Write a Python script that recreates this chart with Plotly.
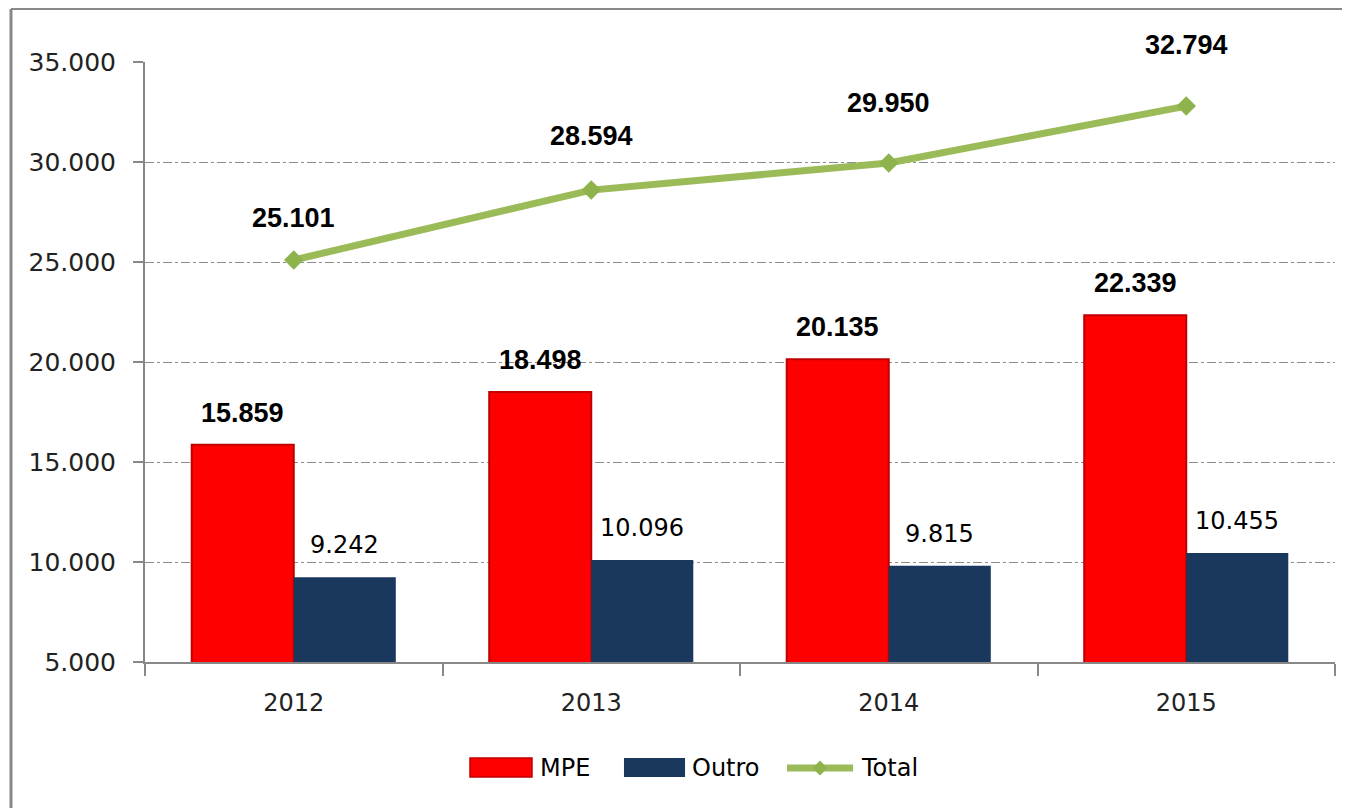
import plotly.graph_objects as go

years = ["2012", "2013", "2014", "2015"]
mpe = [15859, 18498, 20135, 22339]
outro = [9242, 10096, 9815, 10455]
total = [25101, 28594, 29950, 32794]
tick_vals = [5000, 10000, 15000, 20000, 25000, 30000, 35000]
tick_text = ["5.000", "10.000", "15.000", "20.000", "25.000", "30.000", "35.000"]


def fmt(v):
    return f"{v:,}".replace(",", ".")


RED = "#FF0000"
NAVY = "#1A375E"
GREEN = "#9BBB59"
REG = "DejaVu Sans"
BOLD = "Liberation Sans"

fig = go.Figure()
fig.add_trace(go.Bar(x=years, y=mpe, name="MPE", marker=dict(color=RED, line=dict(color="#C00000", width=2))))
fig.add_trace(go.Bar(x=years, y=outro, name="Outro", marker=dict(color=NAVY, line=dict(width=0))))
fig.add_trace(go.Scatter(x=years, y=total, name="Total", mode="lines+markers",
                         line=dict(color=GREEN, width=7),
                         marker=dict(symbol="diamond", size=15, color="#8FB34C")))

total_shift = [42, 54, 60, 61]
for i, y in enumerate(years):
    fig.add_annotation(x=i, y=mpe[i], xshift=-51, yshift=32, text=f"<b>{fmt(mpe[i])}</b>",
                       showarrow=False, font=dict(family=BOLD, size=27, color="black"))
    fig.add_annotation(x=i, y=outro[i], xshift=51, yshift=32, text=fmt(outro[i]),
                       showarrow=False, font=dict(family=REG, size=24, color="black"))
    fig.add_annotation(x=i, y=total[i], yshift=total_shift[i], text=f"<b>{fmt(total[i])}</b>",
                       showarrow=False, font=dict(family=BOLD, size=27, color="black"))

# outer frame (top and left border of the picture)
fig.add_shape(type="line", xref="paper", yref="paper", x0=-0.1126, x1=1.03, y0=1.0883, y1=1.0883,
              line=dict(color="#888888", width=2))
fig.add_shape(type="line", xref="paper", yref="paper", x0=-0.1126, x1=-0.1126, y0=1.0883, y1=-0.26,
              line=dict(color="#888888", width=3))

# legend drawn below the plot (wide swatches as in the reference)
LY = -0.1767
fig.add_shape(type="rect", xref="paper", yref="paper", x0=0.2731, x1=0.3252, y0=-0.1600, y1=-0.1917,
              fillcolor=RED, line=dict(color="#C00000", width=1.5))
fig.add_shape(type="rect", xref="paper", yref="paper", x0=0.4025, x1=0.4538, y0=-0.1600, y1=-0.1917,
              fillcolor=NAVY, line=dict(width=0))
fig.add_shape(type="line", xref="paper", yref="paper", x0=0.5395, x1=0.5950, y0=LY, y1=LY,
              line=dict(color=GREEN, width=7))
cx, dx, dy = 0.5672, 0.0063, 0.0125
fig.add_shape(type="path", xref="paper", yref="paper",
              path=f"M {cx},{LY + dy} L {cx + dx},{LY} L {cx},{LY - dy} L {cx - dx},{LY} Z",
              fillcolor="#8FB34C", line=dict(width=0))
for name, lx in [("MPE", 0.3303), ("Outro", 0.4580), ("Total", 0.6000)]:
    fig.add_annotation(xref="paper", yref="paper", x=lx, y=LY, xanchor="left", yanchor="middle",
                       text=name, showarrow=False, font=dict(family=REG, size=24, color="black"))

fig.update_layout(
    width=1350, height=808,
    margin=dict(l=137, r=23, t=54, b=154, autoexpand=False),
    paper_bgcolor="white", plot_bgcolor="white",
    barmode="group", bargap=0.314, bargroupgap=0,
    font=dict(family=REG, size=24, color="#222222"),
    showlegend=False,
    xaxis=dict(type="category", range=[-0.5, 3.5], showline=True, linecolor="#888888", linewidth=2,
               ticks="outside", tickson="boundaries", ticklen=12, tickcolor="#888888", tickwidth=2,
               tickangle=0, tickfont=dict(family=REG, size=24, color="#222222"), showgrid=False,
               ticklabelstandoff=18),
    yaxis=dict(range=[5000, 35000], tickvals=tick_vals, ticktext=tick_text,
               showline=True, linecolor="#888888", linewidth=2,
               ticks="outside", ticklen=10, tickcolor="#888888", tickwidth=2,
               showgrid=True, gridcolor="#8C8C8C", griddash="dashdot", gridwidth=1,
               tickfont=dict(family=REG, size=25, color="#222222"), ticklabelstandoff=12,
               zeroline=False),
)

fig.write_html("out.html")
